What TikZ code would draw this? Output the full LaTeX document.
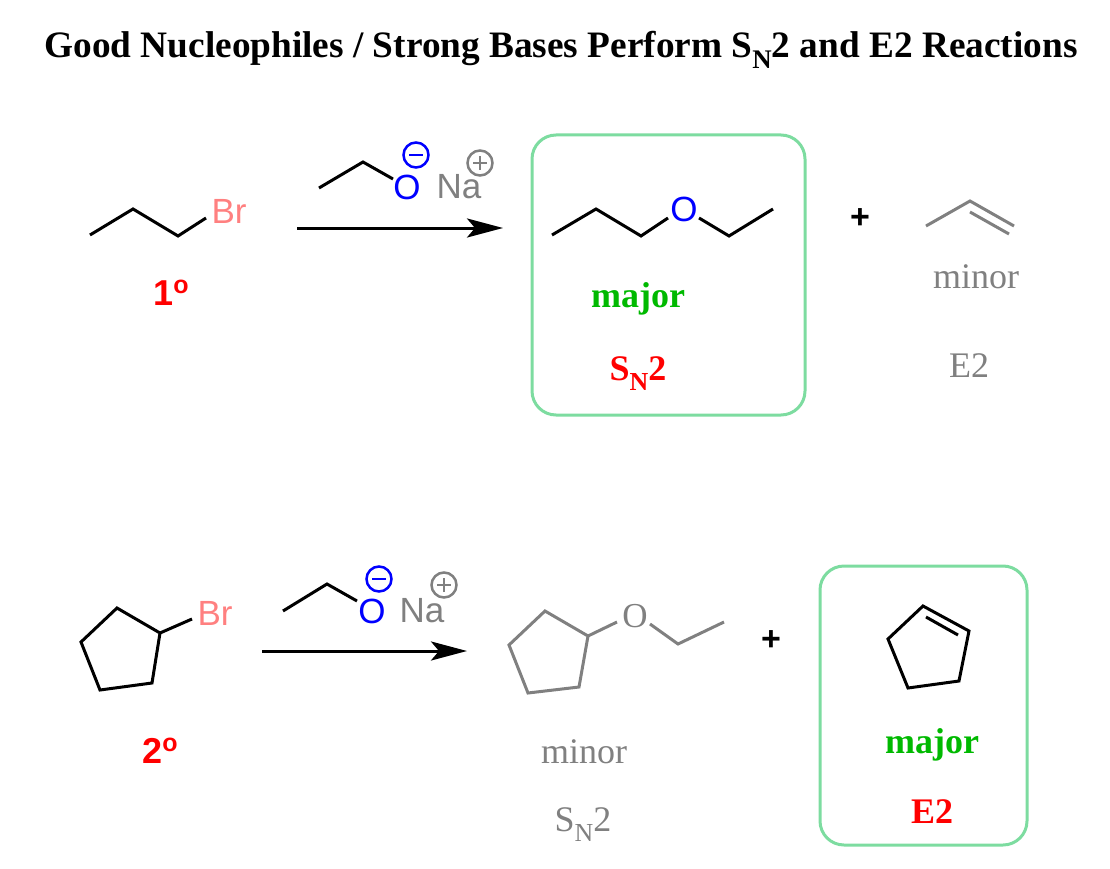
\documentclass[tikz,border=0pt]{standalone}
\usepackage{fontspec}
\setmainfont{Liberation Serif}
\newfontfamily\chemsans{Liberation Sans}
\usetikzlibrary{arrows.meta}
\definecolor{brpink}{RGB}{255,128,128}
\definecolor{oblue}{RGB}{0,0,255}
\definecolor{ngray}{RGB}{128,128,128}
\definecolor{labred}{RGB}{255,0,0}
\definecolor{majgreen}{RGB}{0,185,0}
\definecolor{boxgreen}{RGB}{125,220,160}
\newcommand\lowsub[1]{\raisebox{-0.28em}{\scalebox{0.72}{#1}}}
\newcommand\degmark{\raisebox{12pt}{\fontsize{25}{25}\selectfont o}}
\begin{document}
\begin{tikzpicture}[x=1pt,y=-1pt,
  bond/.style={line width=3pt,line join=miter},
  graybond/.style={bond,draw=ngray},
  rxnarrow/.style={line width=3pt,-{Stealth[length=36pt,width=19pt,inset=8pt]}},
  hibox/.style={draw=boxgreen,line width=3pt,rounded corners=24pt},
  txt/.style={inner sep=0pt,anchor=base},
  titletxt/.style={txt,font=\fontsize{37.3}{42}\selectfont\bfseries},
  atom/.style={txt,font=\chemsans\fontsize{35}{40}\selectfont},
  degree/.style={txt,font=\chemsans\fontsize{36}{40}\selectfont\bfseries,text=labred},
  lblbold/.style={txt,font=\fontsize{36}{40}\selectfont\bfseries},
  lblgray/.style={txt,font=\fontsize{36}{40}\selectfont,text=ngray},
  plustxt/.style={inner sep=0pt,anchor=center,font=\chemsans\fontsize{34}{40}\selectfont\bfseries},
  charge/.style={circle,draw,line width=2.5pt,minimum size=25pt,inner sep=0pt}
]
\useasboundingbox (0,0) rectangle (1110,869);

% title
\node[titletxt] (title) at (561,58) {Good Nucleophiles / Strong Bases Perform S\lowsub{N}2 and E2 Reactions};

% ===== top reaction =====
\coordinate (a1) at (90,235);
\coordinate (a2) at (133,209);
\coordinate (a3) at (178,236);
\coordinate (a4) at (206,218);
\draw[bond] (a1) -- (a2) -- (a3) -- (a4);
\node[atom,text=brpink] (br1) at (229,223) {Br};
\node[degree] (deg1) at (171,305) {1\degmark};

\coordinate (e1) at (319,188);
\coordinate (e2) at (363,162);
\coordinate (e3) at (393,179);
\draw[bond] (e1) -- (e2) -- (e3);
\node[atom,text=oblue] (o1) at (407,199) {O};
\node[charge,draw=oblue] (m1) at (416,155) {};
\draw[oblue,line width=2.5pt] ([xshift=-7pt]m1.center) -- ([xshift=7pt]m1.center);
\node[atom,text=ngray] (na1) at (459,198) {Na};
\node[charge,draw=ngray] (p1) at (480,163) {};
\draw[ngray,line width=2.5pt] ([xshift=-7pt]p1.center) -- ([xshift=7pt]p1.center)
  ([yshift=-7pt]p1.center) -- ([yshift=7pt]p1.center);

\coordinate (ar1s) at (297,228);
\coordinate (ar1e) at (503,228);
\draw[rxnarrow] (ar1s) -- (ar1e);

\draw[hibox] (532,135) rectangle (805,415);
\coordinate (t1) at (552,235);
\coordinate (t2) at (596,209);
\coordinate (t3) at (641,236);
\coordinate (t4) at (668,218);
\coordinate (t5) at (699,218);
\coordinate (t6) at (729,236);
\coordinate (t7) at (773,209);
\draw[bond] (t1) -- (t2) -- (t3) -- (t4);
\draw[bond] (t5) -- (t6) -- (t7);
\node[atom,text=oblue] (o2) at (684,222) {O};
\node[lblbold,text=majgreen] (maj1) at (638,307) {major};
\node[lblbold,text=labred] (sn1) at (638,380) {S\lowsub{N}2};

\node[plustxt] (plus1) at (860,219) {+};

\coordinate (q1) at (926,226);
\coordinate (q2) at (970,201);
\coordinate (q3) at (1014,226);
\coordinate (q4) at (970,212);
\coordinate (q5) at (1009,234);
\draw[graybond] (q1) -- (q2) -- (q3);
\draw[graybond] (q4) -- (q5);
\node[lblgray] (min1) at (976,288) {minor};
\node[lblgray] (e2a) at (969,377) {E2};

% ===== bottom reaction =====
\coordinate (c1) at (117,608);
\coordinate (c2) at (160,633);
\coordinate (c3) at (152,683);
\coordinate (c4) at (100,690);
\coordinate (c5) at (81,642);
\coordinate (cb) at (192,619);
\draw[bond] (c1) -- (c2) -- (c3) -- (c4) -- (c5) -- cycle;
\draw[bond] (c2) -- (cb);
\node[atom,text=brpink] (br2) at (215,625) {Br};
\node[degree] (deg2) at (160,763) {2\degmark};

\coordinate (f1) at (283,611);
\coordinate (f2) at (327,584);
\coordinate (f3) at (357,601);
\draw[bond] (f1) -- (f2) -- (f3);
\node[atom,text=oblue] (o3) at (372,623) {O};
\node[charge,draw=oblue] (m2) at (379,579) {};
\draw[oblue,line width=2.5pt] ([xshift=-7pt]m2.center) -- ([xshift=7pt]m2.center);
\node[atom,text=ngray] (na2) at (422,622) {Na};
\node[charge,draw=ngray] (p2) at (444,585) {};
\draw[ngray,line width=2.5pt] ([xshift=-7pt]p2.center) -- ([xshift=7pt]p2.center)
  ([yshift=-7pt]p2.center) -- ([yshift=7pt]p2.center);

\coordinate (ar2s) at (262,651);
\coordinate (ar2e) at (467,651);
\draw[rxnarrow] (ar2s) -- (ar2e);

\coordinate (g1) at (545,611);
\coordinate (g2) at (588,636);
\coordinate (g3) at (579,687);
\coordinate (g4) at (528,693);
\coordinate (g5) at (509,645);
\coordinate (gb) at (617,622);
\coordinate (go) at (650,624);
\coordinate (g6) at (678,644);
\coordinate (g7) at (724,622);
\draw[graybond] (g1) -- (g2) -- (g3) -- (g4) -- (g5) -- cycle;
\draw[graybond] (g2) -- (gb);
\draw[graybond] (go) -- (g6) -- (g7);
\node[txt,font=\fontsize{35}{40}\selectfont,text=ngray] (o4) at (635,627) {O};
\node[lblgray] (min2) at (584,763) {minor};
\node[lblgray] (sn2) at (583,831) {S\lowsub{N}2};

\node[plustxt] (plus2) at (771,641) {+};

\draw[hibox] (820,566) rectangle (1027,845);
\coordinate (h1) at (923,606);
\coordinate (h2) at (969,631);
\coordinate (h3) at (959,681);
\coordinate (h4) at (908,688);
\coordinate (h5) at (888,639);
\coordinate (h6) at (926,617);
\coordinate (h7) at (958,635);
\draw[bond] (h1) -- (h2) -- (h3) -- (h4) -- (h5) -- cycle;
\draw[bond] (h6) -- (h7);
\node[lblbold,text=majgreen] (maj2) at (932,753) {major};
\node[lblbold,text=labred] (e2b) at (932,823) {E2};
\end{tikzpicture}
\end{document}
